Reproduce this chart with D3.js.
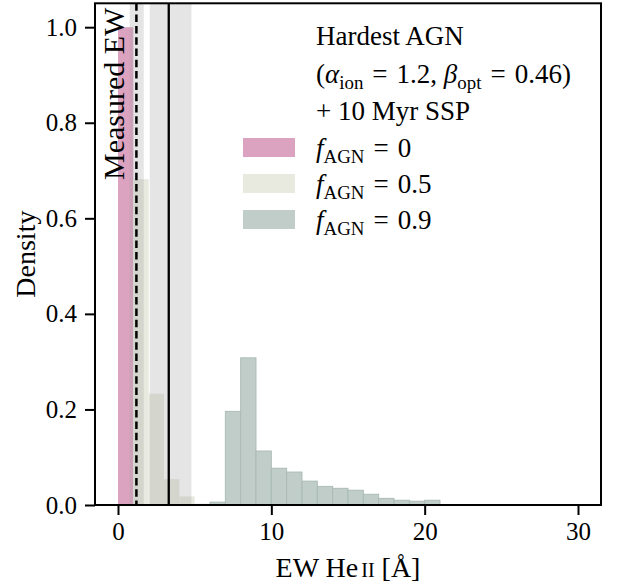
<!DOCTYPE html>
<html>
<head>
<meta charset="utf-8">
<script src="https://cdn.jsdelivr.net/npm/d3@7"></script>
<style>
  body { margin: 0; background: #ffffff; }
  svg { display: block; }
  text { font-family: "Liberation Serif", "Times New Roman", serif; fill: #000; }
</style>
</head>
<body>
<svg id="chart" width="618" height="587"></svg>
<script>
// Histogram bins (unit width), density per bin for each AGN fraction
const binWidth = 1;
const pinkBinStarts = [0];
const pinkDensity = [1.0];
const beigeBinStarts = [1, 2, 3, 4, 5];
const beigeDensity = [0.682, 0.233, 0.054, 0.018, 0.003];
const greenBinStarts = [6, 7, 8, 9, 10, 11, 12, 13, 14, 15, 16, 17, 18, 19, 20];
const greenDensity = [0.006, 0.196, 0.308, 0.113, 0.077, 0.069, 0.050, 0.039, 0.035, 0.031, 0.0225, 0.014, 0.010, 0.008, 0.010];

// Measured equivalent widths with their uncertainty ranges
const measuredDashed = 1.2;
const measuredDashedRange = [0.76, 1.68];
const measuredSolid = 3.31;
const measuredSolidRange = [2.07, 4.79];

// Axis ticks
const xTicks = [0, 10, 20, 30];
const yTicks = [0, 0.2, 0.4, 0.6, 0.8, 1.0];
const xDomain = [-1.5, 31.5];
const yDomain = [0, 1.05];

const series = [
  { starts: pinkBinStarts, density: pinkDensity, color: "#dba3bf", stroke: "none", label: "0" },
  { starts: beigeBinStarts, density: beigeDensity, color: "#e8eadf", stroke: "none", label: "0.5" },
  { starts: greenBinStarts, density: greenDensity, color: "#c0cdc8", stroke: "#a9bab4", label: "0.9" }
];

const svg = d3.select("#chart");
const plotLeft = 95, plotRight = 601, plotTop = 3.3, plotBottom = 505;

const x = d3.scaleLinear().domain(xDomain).range([plotLeft, plotRight]);
const y = d3.scaleLinear().domain(yDomain).range([plotBottom, plotTop]);

const plot = svg.append("g");

// Bars
series.forEach(s => {
  plot.append("g")
    .selectAll("rect")
    .data(s.starts.map((b, i) => ({ b, d: s.density[i] })))
    .join("rect")
    .attr("x", d => x(d.b))
    .attr("width", d => x(d.b + binWidth) - x(d.b))
    .attr("y", d => y(d.d))
    .attr("height", d => y(0) - y(d.d))
    .attr("fill", s.color)
    .attr("stroke", s.stroke)
    .attr("stroke-width", 0.9);
});

// Uncertainty bands
[measuredDashedRange, measuredSolidRange].forEach(r => {
  plot.append("rect")
    .attr("x", x(r[0]))
    .attr("width", x(r[1]) - x(r[0]))
    .attr("y", plotTop)
    .attr("height", plotBottom - plotTop)
    .attr("fill", "#a0a0a0")
    .attr("fill-opacity", 0.28);
});

// Measured EW lines
plot.append("line")
  .attr("x1", x(measuredDashed)).attr("x2", x(measuredDashed))
  .attr("y1", plotTop).attr("y2", plotBottom)
  .attr("stroke", "#000").attr("stroke-width", 2.5)
  .attr("stroke-dasharray", "7.5,3.8");
plot.append("line")
  .attr("x1", x(measuredSolid)).attr("x2", x(measuredSolid))
  .attr("y1", plotTop).attr("y2", plotBottom)
  .attr("stroke", "#000").attr("stroke-width", 2.3);

// "Measured EW" annotation
svg.append("text")
  .attr("transform", `translate(${x(measuredDashed) - 12},180) rotate(-90)`)
  .attr("font-size", 30)
  .text("Measured EW");

// Axes
const xAxis = d3.axisBottom(x).tickValues(xTicks).tickSize(10).tickPadding(7)
  .tickFormat(d3.format("d"));
const yAxis = d3.axisLeft(y).tickValues(yTicks).tickSize(10).tickPadding(8)
  .tickFormat(d3.format(".1f"));

const gx = svg.append("g").attr("transform", `translate(0,${plotBottom})`).call(xAxis);
const gy = svg.append("g").attr("transform", `translate(${plotLeft},0)`).call(yAxis);
[gx, gy].forEach(g => {
  g.select(".domain").remove();
  g.selectAll(".tick line").attr("stroke", "#000").attr("stroke-width", 2);
  g.selectAll(".tick text")
    .attr("font-family", "Liberation Serif")
    .attr("font-size", 25)
    .attr("fill", "#000");
});

// Frame
svg.append("rect")
  .attr("x", plotLeft).attr("y", plotTop)
  .attr("width", plotRight - plotLeft).attr("height", plotBottom - plotTop)
  .attr("fill", "none").attr("stroke", "#000").attr("stroke-width", 2);

// Axis labels
const xl = svg.append("text")
  .attr("x", (plotLeft + plotRight) / 2).attr("y", 577)
  .attr("text-anchor", "middle").attr("font-size", 28);
xl.append("tspan").text("EW He");
xl.append("tspan").attr("font-size", 20).attr("dx", 3).text("II");
xl.append("tspan").text(" [Å]");

svg.append("text")
  .attr("transform", `translate(35,${(plotTop + plotBottom) / 2}) rotate(-90)`)
  .attr("text-anchor", "middle").attr("font-size", 28)
  .text("Density");

// Legend
const legendX = 316;
const fs = 27;
const EQ = "\u2004=\u2004";

function richText(sel, parts) {
  parts.forEach(p => {
    const t = sel.append("tspan").text(p.t);
    if (p.i) t.attr("font-style", "italic");
    if (p.sub) t.attr("font-size", fs * 0.7).attr("dy", 6);
    if (p.up) t.attr("dy", -6);
  });
}

const header = [
  [{ t: "Hardest AGN" }],
  [{ t: "(" }, { t: "α", i: true }, { t: "ion", sub: true }, { t: EQ + "1.2, ", up: true },
   { t: "β", i: true }, { t: "opt", sub: true }, { t: EQ + "0.46)", up: true }],
  [{ t: "+ 10 Myr SSP" }]
];
const headerBaselines = [45, 83, 120];
header.forEach((parts, i) => {
  const t = svg.append("text").attr("x", legendX).attr("y", headerBaselines[i]).attr("font-size", fs);
  richText(t, parts);
});

const entryBaselines = [157, 193, 229];
series.forEach((s, i) => {
  const yb = entryBaselines[i];
  svg.append("rect")
    .attr("x", 243).attr("y", yb - 19)
    .attr("width", 52).attr("height", 19)
    .attr("fill", s.color);
  const t = svg.append("text").attr("x", legendX).attr("y", yb).attr("font-size", fs);
  richText(t, [{ t: "f", i: true }, { t: "AGN", sub: true }, { t: EQ + s.label, up: true }]);
});
</script>
</body>
</html>
